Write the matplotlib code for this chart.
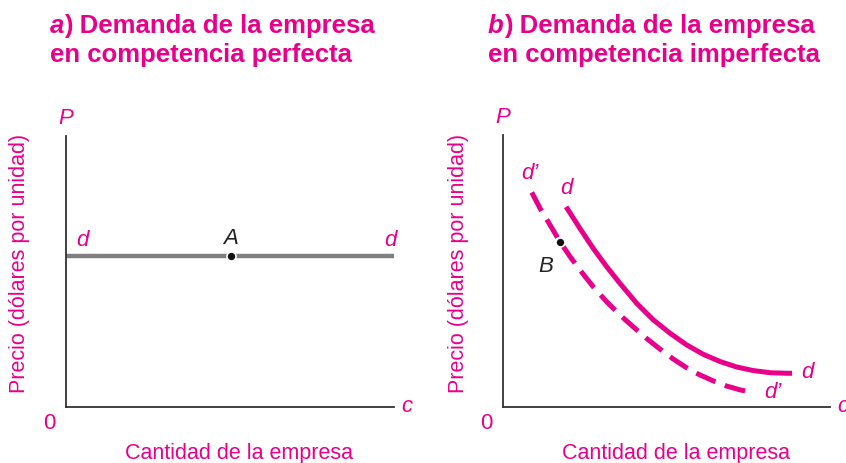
import matplotlib
matplotlib.use("Agg")
import matplotlib.pyplot as plt

plt.rcParams['font.family'] = ['Liberation Sans', 'DejaVu Sans']

MAGENTA = '#E8008A'
GRAY = '#808080'

# panel a: horizontal demand of the firm
flat_x = [0, 10]
flat_p = [5.57, 5.57]
point_a = (5.03, 5.57)

# panel b: downward sloping demand d and d'
d_x = [1.93, 2.35, 2.76, 3.17, 3.58, 4.09, 4.60, 5.11, 5.62, 6.12, 6.64,
       7.15, 7.65, 8.17, 8.68, 8.84]
d_p = [7.36, 6.57, 5.83, 5.16, 4.54, 3.81, 3.20, 2.71, 2.28, 1.94, 1.67,
       1.47, 1.34, 1.26, 1.24, 1.24]
dp_x = [0.88, 1.13, 1.44, 1.74, 2.05, 2.41, 2.76, 3.17, 3.58, 3.98, 4.39,
        4.80, 5.21, 5.62, 6.02, 6.43, 6.84, 7.25, 7.61]
dp_p = [7.89, 7.31, 6.69, 6.08, 5.53, 4.95, 4.42, 3.87, 3.38, 2.95, 2.52,
        2.13, 1.76, 1.44, 1.18, 0.96, 0.77, 0.63, 0.54]
point_b = (1.74, 6.08)

titles = [('a', ') Demanda de la empresa', 'en competencia perfecta'),
          ('b', ') Demanda de la empresa', 'en competencia imperfecta')]
ylabel = 'Precio (dólares por unidad)'
xlabel = 'Cantidad de la empresa'

W, H = 846, 463
fig = plt.figure(figsize=(W / 100, H / 100), dpi=100)


def px_axes(x0, x1, ytop, ybot):
    return fig.add_axes([x0 / W, 1 - ybot / H, (x1 - x0) / W, (ybot - ytop) / H])


def setup(ax):
    ax.set_xlim(0, 10)
    ax.set_ylim(0, 10)
    for s in ['top', 'right']:
        ax.spines[s].set_visible(False)
    for s in ['left', 'bottom']:
        ax.spines[s].set_color('#333333')
        ax.spines[s].set_linewidth(1.3)
    ax.set_xticks([])
    ax.set_yticks([])
    ax.patch.set_alpha(0)
    ax.text(0, 10.65, 'P', color=MAGENTA, style='italic', fontsize=16,
            ha='center', va='center', clip_on=False)
    ax.text(-0.5, -0.62, '0', color=MAGENTA, fontsize=16,
            ha='center', va='center', clip_on=False)
    ax.text(10.4, 0, 'c', color=MAGENTA, style='italic', fontsize=16,
            ha='center', va='center', clip_on=False)


def label(ax, x, y, s, color=MAGENTA):
    ax.text(x, y, s, style='italic', fontsize=16, color=color,
            ha='center', va='center', clip_on=False)


ax1 = px_axes(66, 394, 136, 407)
setup(ax1)
ax1.plot(flat_x, flat_p, color=GRAY, lw=3.2, solid_capstyle='butt', clip_on=False)
ax1.plot(*point_a, 'o', color='#111111', ms=6.5, mec='white', mew=1.2, clip_on=False)
label(ax1, point_a[0], 6.2, 'A', '#222222')
label(ax1, 0.5, 6.15, 'd')
label(ax1, 9.9, 6.15, 'd')

ax2 = px_axes(503, 830, 135, 407)
setup(ax2)
ax2.plot(d_x, d_p, color=MAGENTA, lw=3.6, solid_capstyle='butt', solid_joinstyle='round')
ax2.plot(dp_x, dp_p, color=MAGENTA, lw=3.6, dashes=(4.2, 2.0),
         dash_capstyle='butt', dash_joinstyle='round')
ax2.plot(*point_b, 'o', color='#111111', ms=6.5, mec='white', mew=1.2)
label(ax2, 1.31, 5.15, 'B', '#222222')
label(ax2, 0.83, 8.6, 'd\u2019')
label(ax2, 1.93, 8.05, 'd')
label(ax2, 9.3, 1.25, 'd')
label(ax2, 8.25, 0.55, 'd\u2019')

# titles and axis labels
for (letter, rest, line2), x0, xc, yl in zip(titles, [50, 488], [239, 676], [20, 458]):
    t = fig.text(x0 / W, 1 - 33 / H, letter, fontsize=18.5, fontweight='bold',
                 style='italic', color=MAGENTA, va='baseline')
    ax1.annotate(rest, xy=(1, 0), xycoords=t, fontsize=18.5, fontweight='bold',
                 color=MAGENTA, va='bottom', ha='left', annotation_clip=False)
    fig.text(x0 / W, 1 - 62 / H, line2, fontsize=18.5, fontweight='bold',
             color=MAGENTA, va='baseline')
    fig.text(xc / W, 1 - 453 / H, xlabel, fontsize=15.5, color=MAGENTA,
             ha='center', va='center')
    fig.text(yl / W, 1 - 263 / H, ylabel, fontsize=15.5, color=MAGENTA,
             ha='center', va='center', rotation=90)

fig.savefig('out.png', dpi=100)
